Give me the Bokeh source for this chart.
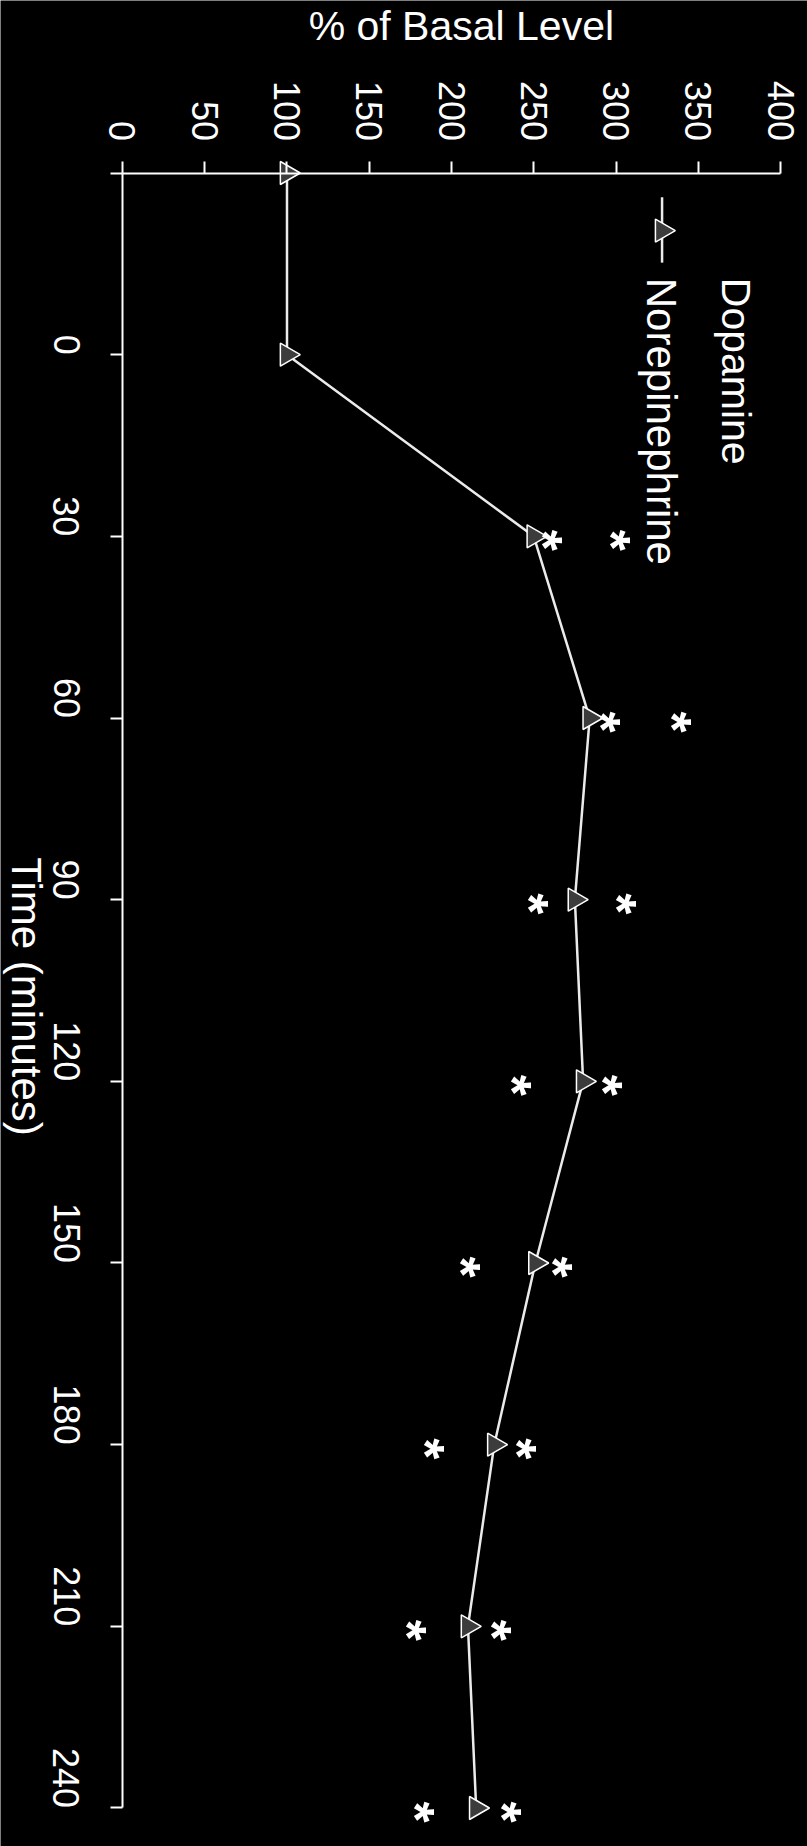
import math
from bokeh.plotting import figure
from bokeh.models import Range1d, FixedTicker, Label
from bokeh.core.properties import value
from bokeh.embed import file_html
from bokeh.resources import INLINE

# ---- data ----
time_min = [-30, 0, 30, 60, 90, 120, 150, 180, 210, 240]
norepinephrine = [100, 100, 250, 284, 275, 280, 251, 226, 210, 215]
sig_time = [30, 60, 90, 120, 150, 180, 210, 240]
sig_near = [265, 300, 256, 246, 215, 193, 182, 187]
sig_far = [306, 343, 310, 301, 271, 249, 234, 240]
value_ticks = [0, 50, 100, 150, 200, 250, 300, 350, 400]
time_ticks = [-30, 0, 30, 60, 90, 120, 150, 180, 210, 240]
time_tick_labels = ["", "0", "30", "60", "90", "120", "150", "180", "210", "240"]

FONT = "Liberation Sans"
ROT = -math.pi / 2

# The whole page is the plotting frame; axes sit at fixed data locations
p = figure(width=807, height=1846,
           x_range=Range1d(-74.16, 416.41), y_range=Range1d(246.36, -58.49),
           x_axis_location="above", y_axis_location="left",
           output_backend="svg", toolbar_location=None,
           min_border_left=0, min_border_right=0,
           min_border_top=0, min_border_bottom=0,
           background_fill_color="black", border_fill_color="black",
           outline_line_color=None)
p.grid.visible = False

for ax in (p.xaxis[0], p.yaxis[0]):
    ax.axis_line_color = "white"
    ax.axis_line_width = 2
    ax.major_tick_line_color = "white"
    ax.major_tick_line_width = 2
    ax.major_tick_out = 12
    ax.major_tick_in = 0
    ax.minor_tick_line_color = None
    ax.major_label_text_color = "white"
    ax.major_label_text_font = FONT
    ax.major_label_text_font_size = "36px"
    ax.major_label_orientation = ROT

xa = p.xaxis[0]
xa.ticker = FixedTicker(ticks=value_ticks)
xa.major_label_standoff = 20
xa.fixed_location = time_ticks[0]
xa.bounds = (value_ticks[0], value_ticks[-1])

ya = p.yaxis[0]
ya.ticker = FixedTicker(ticks=time_ticks)
ya.major_label_overrides = {t: s for t, s in zip(time_ticks, time_tick_labels)}
ya.major_label_standoff = 44
ya.fixed_location = value_ticks[0]
ya.bounds = (time_ticks[0], time_ticks[-1])

# axis titles
p.add_layout(Label(x=206, y=-54.2, text="% of Basal Level",
                   text_align="center", text_baseline="alphabetic",
                   text_color="white", text_font=FONT, text_font_size="41px"))
p.add_layout(Label(x=-58.6, y=106, text="Time (minutes)", angle=ROT,
                   text_align="center", text_baseline="middle",
                   text_color="white", text_font=FONT, text_font_size="42px"))

# series
p.line(norepinephrine, time_min, line_color="#ebebeb", line_width=2.5)
p.scatter(norepinephrine, time_min, marker="triangle", angle=ROT, size=23,
          fill_color="#3c3c3c", line_color="white", line_width=1.5)

# significance asterisks
for arr in (sig_near, sig_far):
    p.text(arr, sig_time, text=["*"] * len(arr), angle=ROT,
           text_font=value(FONT), text_font_size="54px", text_font_style="bold",
           text_color="white",
           text_align="center", text_baseline="middle", x_offset=-14, y_offset=4)

# legend (drawn rotated like the rest of the figure)
p.add_layout(Label(x=373, y=-12.7, text="Dopamine", angle=ROT,
                   text_align="left", text_baseline="middle",
                   text_color="white", text_font=FONT, text_font_size="41px"))
p.add_layout(Label(x=327.7, y=-12.7, text="Norepinephrine", angle=ROT,
                   text_align="left", text_baseline="middle",
                   text_color="white", text_font=FONT, text_font_size="42px"))
p.line([328, 328], [-26, -15.2], line_color="#ebebeb", line_width=2.5)
p.scatter([328], [-20.5], marker="triangle", angle=ROT, size=23,
          fill_color="#3c3c3c", line_color="white", line_width=1.5)

html = file_html(p, INLINE)
html = html.replace("<body>", '<body style="background-color:#000000;">', 1)
open("out.html", "w").write(html)
